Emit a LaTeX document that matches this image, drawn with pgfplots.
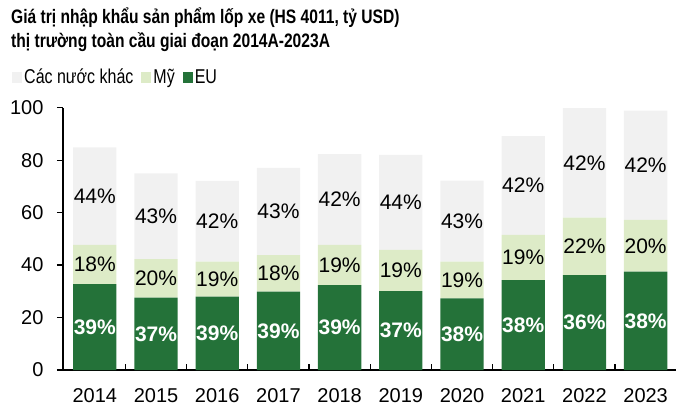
\documentclass[border=0pt]{standalone}
\usepackage{fontspec}
\setmainfont{Liberation Sans}
\newfontfamily\condfont{Liberation Sans}[FakeStretch=0.8]
\usepackage{pgfplots}
\usepackage{pgfplotstable}
\pgfplotsset{compat=1.18}
\definecolor{eu}{HTML}{247239}
\definecolor{us}{HTML}{DDEBC7}
\definecolor{ot}{HTML}{F1F1F1}
\pgfplotstableread{
x eu us ot leu lus lot
0 32.7 15.0 37.2 39 18 44
1 27.6 14.7 32.7 37 20 43
2 28.0 13.3 30.8 39 19 42
3 29.9 13.9 33.3 39 18 43
4 32.4 15.3 34.6 39 19 42
5 30.1 15.7 36.2 37 19 44
6 27.3 14.0 30.9 38 19 43
7 34.3 17.2 37.7 38 19 42
8 36.2 21.9 41.7 36 22 42
9 37.5 19.7 41.7 38 20 42
}\data
\begin{document}
\begin{tikzpicture}
\useasboundingbox (-63pt,-40pt) rectangle (614pt,370pt);
\begin{axis}[
  at={(0,0)}, anchor=south west,
  x=61.2pt, y=2.623pt,
  xmin=-0.52, xmax=9.5, ymin=0, ymax=100,
  axis lines=left,
  axis line style={-, line width=1.5pt, black},
  ybar stacked, bar width=43.3pt,
  xtick={0,...,9},
  xticklabels={2014,2015,2016,2017,2018,2019,2020,2021,2022,2023},
  minor xtick={0.5,1.5,...,8.5},
  ytick={0,20,...,100},
  tick align=inside,
  major tick length=6pt, minor tick length=6pt,
  major x tick style={draw=none},
  major y tick style={xshift=-6pt, line width=1.3pt, black},
  minor x tick style={line width=1.3pt, black},
  tick label style={font=\fontsize{20}{24}\selectfont, black},
  xticklabel style={yshift=-15pt},
  yticklabel style={xshift=-16pt},
  /pgf/number format/assume math mode=true,
  legend image code/.code={\fill[#1] (0pt,-5.5pt) rectangle (10pt,5.5pt);},
  legend style={at={(axis cs:-1.353,111.7)}, anchor=west, draw=none, fill=none,
    inner sep=0pt, font=\condfont\fontsize{20}{24}\selectfont,
    /tikz/every even column/.append style={column sep=6pt}},
  legend columns=3,
  point meta=explicit symbolic,
  nodes near coords={\pgfplotspointmeta\%},
]
\addplot[fill=eu, draw=none, forget plot,
  every node near coord/.append style={anchor=center, white, font=\bfseries\fontsize{21}{24}\selectfont}]
  table[x=x, y=eu, meta=leu]{\data};
\addplot[fill=us, draw=none, forget plot,
  every node near coord/.append style={anchor=center, black, font=\fontsize{21}{24}\selectfont}]
  table[x=x, y=us, meta=lus]{\data};
\addplot[fill=ot, draw=none, forget plot,
  every node near coord/.append style={anchor=center, black, font=\fontsize{21}{24}\selectfont}]
  table[x=x, y=ot, meta=lot]{\data};
\addlegendimage{fill=ot, draw=none}
\addlegendentry{Các nước khác}
\addlegendimage{fill=us, draw=none}
\addlegendentry{Mỹ}
\addlegendimage{fill=eu, draw=none}
\addlegendentry{EU}
\end{axis}
\node[anchor=base west, font=\condfont\bfseries\fontsize{19.5}{24}\selectfont, inner sep=0pt] at (-52pt,346pt) {Giá trị nhập khẩu sản phẩm lốp xe (HS 4011, tỷ USD)};
\node[anchor=base west, font=\condfont\bfseries\fontsize{19.5}{24}\selectfont, inner sep=0pt] at (-52pt,322pt) {thị trường toàn cầu giai đoạn 2014A-2023A};
\end{tikzpicture}
\end{document}
